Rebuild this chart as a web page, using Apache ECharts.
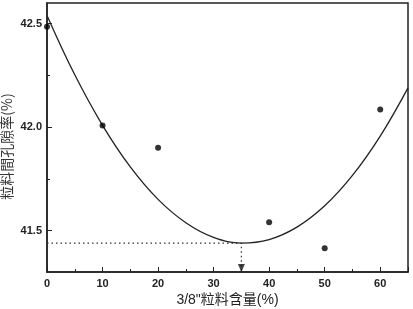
<!DOCTYPE html>
<html>
<head>
<meta charset="utf-8">
<script src="https://cdn.jsdelivr.net/npm/echarts@6/dist/echarts.min.js"></script>
<style>
  html, body { margin: 0; padding: 0; background: #fff; }
  #chart { width: 413px; height: 309px; }
</style>
</head>
<body>
<div id="chart"></div>
<script>
// measured points: 3/8" aggregate content (%) vs void ratio (%)
const contentPct = [0, 10, 20, 40, 50, 60];
const voidRatio = [42.485, 42.008, 41.90, 41.54, 41.415, 42.085];

// fitted curve
const curveX = [0, 5, 10, 15, 20, 25, 30, 35, 40, 45, 50, 55, 60, 65];
const curveY = [42.54, 42.253, 42.009, 41.808, 41.651, 41.538, 41.467, 41.440, 41.457, 41.517, 41.620, 41.767, 41.957, 42.19];

// optimum marker
const optX = 35;
const optY = 41.44;

const yMajor = [41.5, 42.0, 42.5];
const yMinor = [41.75, 42.25];

const chart = echarts.init(document.getElementById('chart'));

const labelFont = {
  color: '#222',
  fontSize: 11,
  fontWeight: 'bold',
  fontFamily: 'Liberation Sans, Arial, sans-serif'
};

const option = {
  animation: false,
  grid: {
    left: 47,
    right: 5,
    top: 3,
    bottom: 37,
    outerBoundsMode: 'none',
    containLabel: false,
    show: true,
    borderColor: '#222',
    borderWidth: 1.5,
    backgroundColor: 'transparent'
  },
  xAxis: {
    type: 'value',
    min: 0,
    max: 65,
    interval: 10,
    name: '3/8"粒料含量(%)',
    nameLocation: 'middle',
    nameGap: 21,
    nameMoveOverlap: false,
    nameTextStyle: {
      color: '#222',
      fontSize: 14,
      fontFamily: 'Liberation Sans, Noto Sans CJK TC, sans-serif'
    },
    axisLine: { lineStyle: { color: '#222', width: 1.5 } },
    axisTick: { inside: true, length: 5, lineStyle: { color: '#222' } },
    minorTick: { show: true, splitNumber: 2, length: 3, lineStyle: { color: '#222' } },
    axisLabel: Object.assign({ margin: 6, showMaxLabel: false }, labelFont),
    splitLine: { show: false }
  },
  yAxis: [
    {
      type: 'value',
      min: 41.3,
      max: 42.6,
      name: '粒料間孔隙率(%)',
      nameLocation: 'middle',
      nameGap: 33,
      nameRotate: 90,
      nameMoveOverlap: false,
      nameTextStyle: {
        color: '#333',
        fontSize: 14,
        fontFamily: 'Noto Sans CJK TC, sans-serif',
        padding: [0, 18, 0, 0]
      },
      axisLine: { show: true, lineStyle: { color: '#222', width: 1.5 } },
      axisTick: { inside: true, length: 5, customValues: yMajor, lineStyle: { color: '#222' } },
      axisLabel: Object.assign({
        margin: 5,
        customValues: yMajor,
        formatter: v => v.toFixed(1)
      }, labelFont),
      splitLine: { show: false }
    },
    {
      type: 'value',
      min: 41.3,
      max: 42.6,
      position: 'left',
      axisLine: { show: false },
      axisTick: { show: true, inside: true, length: 3, customValues: yMinor, lineStyle: { color: '#222' } },
      axisLabel: { show: false },
      splitLine: { show: false }
    }
  ],
  series: [
    {
      name: 'fit',
      type: 'line',
      data: curveX.map((x, i) => [x, curveY[i]]),
      smooth: 0.4,
      symbol: 'none',
      lineStyle: { color: '#222', width: 1.3 },
      z: 3
    },
    {
      name: 'guide',
      type: 'line',
      data: [[0, optY], [optX, optY], [optX, 41.3]],
      symbol: 'none',
      lineStyle: { color: '#333', width: 1.2, type: [1.5, 3] },
      z: 2
    },
    {
      name: 'arrow',
      type: 'scatter',
      data: [[optX, 41.3]],
      symbol: 'triangle',
      symbolRotate: 180,
      symbolSize: [7, 8],
      symbolOffset: [0, -4],
      itemStyle: { color: '#111' },
      z: 4
    },
    {
      name: 'measured',
      type: 'scatter',
      data: contentPct.map((x, i) => [x, voidRatio[i]]),
      symbol: 'circle',
      symbolSize: 6,
      itemStyle: { color: '#000' },
      z: 5
    }
  ]
};

chart.setOption(option);
</script>
</body>
</html>
